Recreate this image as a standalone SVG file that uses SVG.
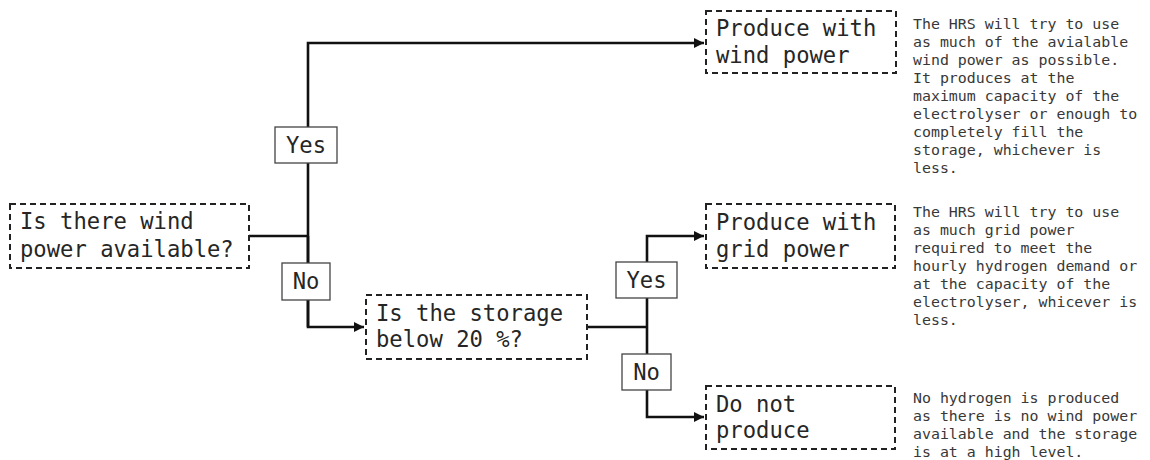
<svg xmlns="http://www.w3.org/2000/svg" width="1150" height="460" viewBox="0 0 1150 460">
<style>
.box{fill:#fff;stroke:#222;stroke-width:2;stroke-dasharray:6 4}
.lbl{fill:#fff;stroke:#444;stroke-width:1.3}
.t{font-family:"DejaVu Sans Mono","Liberation Mono",monospace;font-size:22.2px;fill:#262626}
.tc{font-family:"DejaVu Sans Mono","Liberation Mono",monospace;font-size:22.2px;fill:#262626;text-anchor:middle}
.d{font-family:"DejaVu Sans Mono","Liberation Mono",monospace;font-size:14.9px;fill:#383838}
.c{fill:none;stroke:#111;stroke-width:2.6}
</style>
<defs>
<marker id="ah" viewBox="0 0 10 10" refX="10" refY="5" markerWidth="4" markerHeight="4" orient="auto" markerUnits="strokeWidth">
<path d="M0,0 L10,5 L0,10 z" fill="#111"/>
</marker>
</defs>
<g id="connectors">
<path class="c" d="M249,236 H308"/>
<path class="c" d="M308,327 V43 H704" marker-end="url(#ah)"/>
<path class="c" d="M308,236 V327 H364" marker-end="url(#ah)"/>
<path class="c" d="M587,327 H647"/>
<path class="c" d="M647,327 V236 H704" marker-end="url(#ah)"/>
<path class="c" d="M647,327 V417 H704" marker-end="url(#ah)"/>
</g>
<g id="q1">
<rect class="box" x="10" y="204" width="239" height="64"/>
<text class="t" x="20" y="229">Is there wind</text>
<text class="t" x="20" y="257">power available?</text>
</g>
<g id="yes1">
<rect class="lbl" x="275" y="127" width="62" height="36"/>
<text class="tc" x="306" y="153">Yes</text>
</g>
<g id="no1">
<rect class="lbl" x="282" y="263" width="48" height="37"/>
<text class="tc" x="306" y="289">No</text>
</g>
<g id="q2">
<rect class="box" x="366" y="295" width="221" height="64"/>
<text class="t" x="376" y="321">Is the storage</text>
<text class="t" x="376" y="347">below 20 %?</text>
</g>
<g id="yes2">
<rect class="lbl" x="616" y="262" width="61" height="36"/>
<text class="tc" x="646.5" y="288">Yes</text>
</g>
<g id="no2">
<rect class="lbl" x="622" y="354" width="49" height="36"/>
<text class="tc" x="646.5" y="380">No</text>
</g>
<g id="wind">
<rect class="box" x="706" y="11" width="190" height="62"/>
<text class="t" x="716" y="36">Produce with</text>
<text class="t" x="716" y="63">wind power</text>
</g>
<g id="grid">
<rect class="box" x="706" y="204" width="189" height="64"/>
<text class="t" x="716" y="230">Produce with</text>
<text class="t" x="716" y="257">grid power</text>
</g>
<g id="none">
<rect class="box" x="706" y="386" width="189" height="63"/>
<text class="t" x="716" y="412">Do not</text>
<text class="t" x="716" y="438">produce</text>
</g>
<g id="desc1">
<text class="d" x="913" y="28.5">The HRS will try to use</text>
<text class="d" x="913" y="46.5">as much of the avialable</text>
<text class="d" x="913" y="64.5">wind power as possible.</text>
<text class="d" x="913" y="82.5">It produces at the</text>
<text class="d" x="913" y="100.5">maximum capacity of the</text>
<text class="d" x="913" y="118.5">electrolyser or enough to</text>
<text class="d" x="913" y="136.5">completely fill the</text>
<text class="d" x="913" y="154.5">storage, whichever is</text>
<text class="d" x="913" y="172.5">less.</text>
</g>
<g id="desc2">
<text class="d" x="913" y="217">The HRS will try to use</text>
<text class="d" x="913" y="235">as much grid power</text>
<text class="d" x="913" y="253">required to meet the</text>
<text class="d" x="913" y="271">hourly hydrogen demand or</text>
<text class="d" x="913" y="289">at the capacity of the</text>
<text class="d" x="913" y="307">electrolyser, whicever is</text>
<text class="d" x="913" y="325">less.</text>
</g>
<g id="desc3">
<text class="d" x="913" y="403">No hydrogen is produced</text>
<text class="d" x="913" y="421">as there is no wind power</text>
<text class="d" x="913" y="439">available and the storage</text>
<text class="d" x="913" y="457">is at a high level.</text>
</g>
</svg>
